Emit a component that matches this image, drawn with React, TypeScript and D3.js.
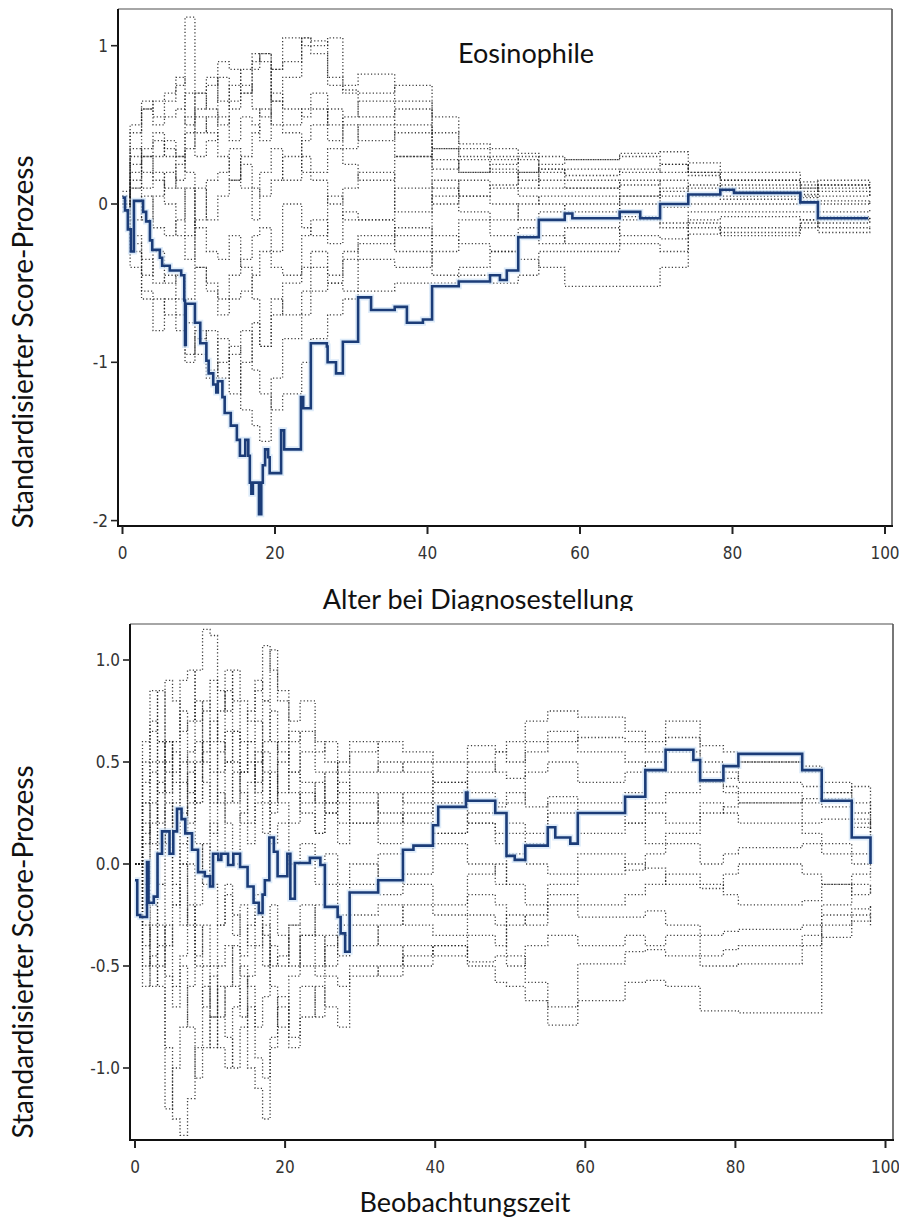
import React from "react";
import * as d3 from "d3";

// ---------- tick values ----------
const topTicksX = [0, 20, 40, 60, 80, 100];
const topTicksY = [-2, -1, 0, 1];
const botTicksX = [0, 20, 40, 60, 80, 100];
const botTicksY = [-1, -0.5, 0, 0.5, 1];

// ---------- texts ----------
const topTitle = "Eosinophile";
const topXLabel = "Alter bei Diagnosestellung";
const botXLabel = "Beobachtungszeit";
const yLabel = "Standardisierter Score-Prozess";

// ---------- top panel: observed score process ----------
const topBlueX = [0, 0.33, 0.7, 1.1, 1.5, 2.7, 3.1, 3.6, 3.9, 4.9, 5.2, 6.2, 7.7, 8.1, 8.2, 8.3, 9.5, 10.2, 11.0, 11.3, 11.9, 12.3, 12.5, 13.1, 13.4, 14.2, 15.0, 15.4, 16.1, 16.5, 16.7, 16.9, 17.1, 17.9, 18.2, 18.4, 18.7, 19.1, 19.3, 20.8, 21.2, 23.4, 23.7, 24.7, 26.8, 26.9, 28.0, 28.9, 30.9, 32.6, 35.7, 37.3, 39.4, 40.6, 44.1, 48.2, 49.5, 50.4, 51.9, 54.6, 58.0, 59.0, 65.2, 67.9, 70.5, 74.2, 78.4, 80.2, 88.9, 91.2, 97.8];
const topBlueY = [0.04, -0.04, -0.16, -0.3, 0.02, -0.05, -0.11, -0.23, -0.29, -0.34, -0.39, -0.42, -0.45, -0.61, -0.89, -0.63, -0.75, -0.88, -0.99, -1.07, -1.14, -1.19, -1.12, -1.22, -1.32, -1.4, -1.49, -1.59, -1.49, -1.59, -1.76, -1.83, -1.76, -1.96, -1.76, -1.65, -1.55, -1.6, -1.7, -1.43, -1.55, -1.22, -1.29, -0.88, -0.9, -1.0, -1.07, -0.87, -0.59, -0.67, -0.65, -0.75, -0.73, -0.52, -0.49, -0.45, -0.48, -0.42, -0.21, -0.1, -0.06, -0.09, -0.05, -0.09, 0.0, 0.06, 0.09, 0.07, 0.01, -0.09, -0.09];

// ---------- top panel: simulated processes (shared jump times) ----------
const topSimX = [0, 1, 2.5, 4, 5.5, 7, 8.2, 9.5, 11, 12.5, 14, 15.5, 17, 18, 19.5, 21, 23.5, 24.7, 26.9, 28.9, 30.9, 35.7, 40.6, 44.1, 48.2, 51.9, 54.6, 58, 65.2, 70.5, 74.2, 78.4, 88.9, 91.2, 98];
const topSim1 = [0.05, 0.3, 0.6, 0.55, 0.65, 0.75, 1.18, 0.7, 0.8, 0.65, 0.75, 0.85, 0.9, 0.95, 0.85, 1.05, 1.0, 0.95, 0.75, 0.7, 0.55, 0.6, 0.35, 0.3, 0.28, 0.2, 0.25, 0.28, 0.3, 0.25, 0.2, 0.15, 0.12, 0.1, 0.05];
const topSim2 = [0.0, 0.45, 0.65, 0.5, 0.55, 0.6, 0.7, 0.45, 0.55, 0.8, 0.6, 0.7, 0.95, 0.9, 0.65, 0.8, 1.05, 1.03, 0.8, 0.75, 0.82, 0.65, 0.45, 0.35, 0.3, 0.28, 0.22, 0.18, 0.22, 0.2, 0.26, 0.1, 0.08, 0.12, 0.1];
const topSim3 = [-0.05, 0.25, 0.35, 0.45, 0.3, 0.15, 0.45, 0.3, 0.4, 0.55, 0.4, 0.55, 0.5, 0.4, 0.7, 0.6, 0.55, 0.6, 0.4, 0.5, 0.4, 0.45, 0.22, 0.28, 0.2, 0.1, 0.15, 0.15, 0.05, 0.1, 0.12, 0.05, 0.04, 0.0, 0.02];
const topSim4 = [0.05, -0.2, -0.45, -0.3, -0.5, -0.45, -0.6, -0.4, -0.55, -0.7, -0.6, -0.55, -0.45, -0.3, -0.4, -0.45, -0.2, -0.1, -0.25, -0.05, -0.1, 0.1, 0.0, 0.15, 0.1, 0.05, 0.0, -0.05, 0.05, -0.02, 0.0, 0.0, 0.02, -0.05, -0.03];
const topSim5 = [0.0, -0.4, -0.55, -0.6, -0.7, -0.8, -0.95, -0.85, -1.05, -1.0, -0.9, -1.3, -1.4, -1.5, -1.1, -0.85, -0.7, -0.55, -0.5, -0.55, -0.35, -0.4, -0.2, -0.25, -0.3, -0.35, -0.4, -0.52, -0.52, -0.4, -0.19, -0.15, -0.12, -0.18, -0.15];
const topSim6 = [0.08, 0.1, -0.1, 0.05, 0.2, 0.1, -0.2, 0.1, -0.1, 0.05, 0.15, 0.25, 0.1, 0.05, 0.15, 0.3, 0.2, 0.2, 0.35, 0.25, 0.15, 0.3, 0.1, 0.05, 0.0, -0.1, -0.05, 0.0, -0.08, -0.12, -0.1, -0.08, -0.1, -0.08, -0.1];
const topSim7 = [0.0, 0.2, 0.1, 0.3, 0.4, 0.3, 0.2, -0.15, -0.3, -0.35, -0.2, -0.4, -0.6, -0.9, -0.7, -0.5, -0.4, -0.3, -0.45, -0.35, -0.2, -0.3, -0.45, -0.4, -0.3, -0.2, -0.25, -0.15, -0.2, -0.22, -0.15, -0.2, -0.15, -0.1, -0.12];
const topSim8 = [0.02, 0.5, 0.6, 0.65, 0.7, 0.8, 0.5, 0.6, 0.75, 0.9, 0.85, 0.7, 0.85, 0.95, 0.65, 0.5, 0.6, 0.7, 0.5, 0.55, 0.65, 0.5, 0.28, 0.2, 0.22, 0.15, 0.22, 0.1, 0.15, 0.05, 0.1, 0.08, 0.06, 0.15, 0.12];
const topSim9 = [-0.02, -0.3, -0.6, -0.8, -0.6, -0.7, -1.0, -0.8, -1.1, -0.85, -1.2, -1.0, -0.75, -0.9, -0.6, -0.7, -0.55, -0.4, -0.5, -0.3, -0.25, -0.15, -0.3, -0.1, -0.2, -0.15, -0.2, -0.25, -0.1, -0.15, -0.05, -0.05, -0.05, -0.12, -0.08];
const topSim10 = [0.05, 0.35, 0.2, 0.15, 0.1, 0.25, 0.35, 0.55, 0.45, 0.3, 0.15, 0.3, 0.45, 0.6, 0.5, 0.45, 0.3, 0.15, 0.0, 0.1, 0.2, -0.05, 0.15, 0.05, 0.12, 0.2, 0.1, 0.1, 0.12, 0.15, 0.05, 0.12, 0.1, 0.05, 0.06];
const topSim11 = [0.0, -0.1, 0.05, -0.15, -0.2, -0.1, 0.1, -0.4, -0.5, -0.6, -0.45, -0.35, -0.2, -0.15, -0.3, 0.0, -0.15, -0.2, 0.05, -0.1, -0.1, -0.2, 0.05, -0.05, -0.1, 0.0, 0.05, 0.05, 0.0, 0.08, 0.05, 0.03, 0.05, 0.02, 0.0];
const topSim12 = [0.0, 0.15, 0.3, 0.4, 0.35, 0.3, 0.55, 0.7, 0.6, 0.5, 0.65, 0.75, 0.6, 0.55, 0.85, 0.9, 1.05, 1.0, 1.05, 0.72, 0.7, 0.75, 0.55, 0.38, 0.35, 0.32, 0.3, 0.28, 0.32, 0.33, 0.2, 0.2, 0.14, 0.12, 0.1];
const topSim13 = [0.0, -0.25, -0.35, -0.5, -0.45, -0.6, -0.75, -0.95, -0.8, -1.1, -0.95, -0.8, -1.05, -1.2, -1.3, -1.2, -1.0, -0.85, -0.7, -0.6, -0.55, -0.5, -0.5, -0.45, -0.5, -0.45, -0.3, -0.3, -0.25, -0.3, -0.12, -0.18, -0.1, -0.15, -0.14];
const topSim14 = [0.05, 0.1, 0.3, 0.2, 0.0, -0.2, -0.35, -0.1, 0.15, 0.2, 0.35, 0.1, -0.1, 0.2, 0.35, 0.15, 0.4, 0.5, 0.6, 0.35, 0.5, 0.3, 0.35, 0.2, 0.25, 0.3, 0.2, 0.22, 0.2, 0.25, 0.18, 0.15, 0.1, 0.08, 0.05];
const topSims = [topSim1, topSim2, topSim3, topSim4, topSim5, topSim6, topSim7, topSim8, topSim9, topSim10, topSim11, topSim12, topSim13, topSim14];

// ---------- bottom panel: observed score process ----------
const botBlueX = [0, 0.3, 0.7, 1.6, 1.8, 2.5, 3.0, 3.6, 4.6, 5.1, 5.6, 6.2, 6.7, 7.6, 8.4, 9.3, 10.0, 10.4, 11.1, 11.5, 12.4, 13.1, 14.0, 15.0, 15.8, 16.5, 17.0, 17.3, 17.9, 18.5, 19.0, 20.3, 20.7, 21.3, 23.3, 24.7, 25.3, 27.0, 27.4, 28.0, 28.6, 32.4, 35.7, 37.1, 39.7, 40.4, 44.1, 44.3, 48.0, 49.5, 50.6, 52.0, 55.0, 56.0, 58.0, 59.0, 65.3, 68.0, 70.7, 74.4, 75.3, 78.4, 80.4, 88.9, 91.5, 95.5, 98.0];
const botBlueY = [-0.08, -0.25, -0.26, 0.01, -0.19, -0.16, 0.05, 0.16, 0.05, 0.16, 0.27, 0.22, 0.15, 0.07, -0.04, -0.06, -0.11, 0.05, 0.02, 0.05, -0.005, 0.05, -0.015, -0.11, -0.19, -0.24, -0.15, -0.08, 0.13, 0.06, -0.06, 0.05, -0.17, 0.005, 0.03, -0.005, -0.21, -0.26, -0.34, -0.43, -0.14, -0.08, 0.07, 0.09, 0.19, 0.28, 0.35, 0.31, 0.25, 0.04, 0.02, 0.09, 0.18, 0.13, 0.1, 0.25, 0.33, 0.46, 0.56, 0.51, 0.41, 0.48, 0.54, 0.46, 0.31, 0.13, 0.0];

// ---------- bottom panel: simulated processes ----------
const botSimX = [0, 1, 2, 3, 4, 5, 6, 7, 8, 9, 10, 11, 12, 13, 14, 15, 16, 17, 18, 19, 20.5, 22, 24, 25.3, 27, 28.6, 32.4, 35.7, 39.7, 44.3, 48, 49.5, 52, 55, 59, 65.3, 68, 70.7, 75.3, 78.4, 80.4, 88.9, 91.5, 95.5, 98];
const botSim1 = [0.0, 0.5, 0.85, 0.6, 0.9, 0.8, 0.65, 0.7, 0.95, 1.15, 1.12, 0.85, 0.75, 0.95, 0.8, 0.7, 0.85, 1.07, 0.95, 0.8, 0.7, 0.8, 0.6, 0.5, 0.45, 0.55, 0.6, 0.55, 0.5, 0.58, 0.55, 0.6, 0.7, 0.75, 0.72, 0.65, 0.6, 0.7, 0.58, 0.55, 0.5, 0.45, 0.4, 0.3, 0.2];
const botSim2 = [0.0, 0.4, 0.65, 0.85, 0.5, 0.6, 0.9, 0.95, 0.7, 0.8, 0.6, 0.75, 0.95, 0.8, 0.6, 0.75, 0.9, 0.8, 1.05, 0.85, 0.6, 0.65, 0.55, 0.6, 0.35, 0.45, 0.5, 0.45, 0.4, 0.5, 0.45, 0.42, 0.55, 0.6, 0.62, 0.6, 0.55, 0.62, 0.5, 0.45, 0.4, 0.38, 0.35, 0.25, 0.15];
const botSim3 = [0.0, 0.3, 0.5, 0.35, 0.6, 0.45, 0.75, 0.5, 0.3, 0.6, 0.45, 0.3, 0.5, 0.65, 0.45, 0.5, 0.35, 0.6, 0.75, 0.55, 0.45, 0.3, 0.4, 0.25, 0.3, 0.2, 0.35, 0.3, 0.4, 0.35, 0.28, 0.3, 0.45, 0.5, 0.4, 0.45, 0.5, 0.45, 0.4, 0.35, 0.3, 0.32, 0.28, 0.22, 0.18];
const botSim4 = [0.0, -0.3, -0.5, -0.6, -0.9, -1.25, -1.33, -1.15, -0.9, -0.6, -0.75, -0.5, -0.4, -0.6, -0.75, -0.55, -0.4, -0.3, -0.5, -0.45, -0.3, -0.5, -0.55, -0.4, -0.3, -0.25, -0.2, -0.3, -0.35, -0.25, -0.3, -0.45, -0.58, -0.7, -0.49, -0.43, -0.42, -0.45, -0.5, -0.5, -0.49, -0.35, -0.36, -0.28, -0.2];
const botSim5 = [0.0, -0.2, -0.6, -0.4, -1.2, -1.0, -0.8, -0.6, -0.3, -0.5, -0.9, -0.75, -0.6, -0.4, -0.55, -1.0, -1.1, -1.25, -0.9, -0.7, -0.85, -0.6, -0.75, -0.55, -0.6, -0.5, -0.55, -0.45, -0.4, -0.5, -0.58, -0.6, -0.67, -0.79, -0.67, -0.58, -0.57, -0.6, -0.72, -0.72, -0.73, -0.73, -0.3, -0.25, -0.3];
const botSim6 = [0.0, 0.2, -0.2, 0.1, 0.3, -0.1, -0.3, 0.0, -0.5, -0.7, -0.55, -0.9, -1.0, -0.7, -0.5, -0.6, -0.8, -0.65, -0.4, -0.5, -0.3, -0.2, -0.35, -0.5, -0.35, -0.4, -0.3, -0.2, -0.25, -0.15, -0.2, -0.3, -0.25, -0.2, -0.26, -0.26, -0.23, -0.3, -0.35, -0.33, -0.32, -0.3, -0.2, -0.1, -0.15];
const botSim7 = [0.0, 0.6, 0.7, 0.5, 0.35, 0.55, 0.4, 0.2, 0.5, 0.75, 0.9, 0.6, 0.5, 0.3, 0.45, 0.6, 0.4, 0.55, 0.3, 0.5, 0.65, 0.4, 0.3, 0.45, 0.2, 0.35, 0.25, 0.2, 0.15, 0.25, 0.3, 0.35, 0.28, 0.33, 0.3, 0.2, 0.3, 0.35, 0.45, 0.42, 0.5, 0.48, 0.35, 0.38, 0.25];
const botSim8 = [0.0, -0.4, -0.2, -0.5, -0.3, -0.6, -0.5, -0.8, -1.05, -0.9, -0.75, -0.6, -0.85, -1.0, -0.8, -0.7, -0.95, -1.05, -0.85, -0.65, -0.9, -0.75, -0.6, -0.7, -0.8, -0.55, -0.5, -0.4, -0.45, -0.35, -0.4, -0.25, -0.3, -0.15, -0.2, -0.15, -0.1, -0.05, -0.1, -0.15, -0.2, -0.18, -0.1, -0.05, -0.08];
const botSim9 = [0.0, 0.1, 0.3, -0.1, 0.15, 0.3, 0.5, 0.35, 0.1, -0.1, 0.2, 0.05, 0.3, 0.45, 0.2, 0.1, 0.3, 0.15, 0.45, 0.3, 0.2, 0.35, 0.15, 0.3, 0.4, 0.3, 0.2, 0.35, 0.15, 0.2, 0.1, 0.15, 0.1, 0.25, 0.15, 0.2, 0.1, 0.15, 0.25, 0.28, 0.3, 0.2, 0.22, 0.18, 0.12];
const botSim10 = [0.0, -0.1, 0.2, 0.4, 0.1, -0.2, 0.1, 0.3, 0.6, 0.4, 0.15, 0.35, 0.2, 0.0, 0.25, 0.4, 0.55, 0.3, 0.1, 0.2, 0.0, 0.1, -0.1, 0.05, -0.1, 0.0, -0.15, -0.05, 0.1, 0.0, -0.1, 0.05, 0.0, -0.05, 0.05, -0.03, 0.05, 0.1, 0.0, 0.05, 0.08, 0.1, 0.05, 0.0, -0.05];
const botSim11 = [0.0, -0.5, -0.3, -0.1, -0.4, -0.2, 0.0, -0.3, -0.2, 0.1, -0.1, -0.3, -0.15, -0.35, -0.2, -0.4, -0.25, -0.5, -0.2, -0.35, -0.5, -0.35, -0.2, -0.1, -0.25, -0.1, 0.05, -0.1, -0.2, -0.05, 0.0, -0.1, -0.2, -0.1, -0.05, 0.0, -0.02, -0.1, -0.12, -0.05, 0.0, -0.05, -0.1, -0.15, -0.1];
const botSim12 = [0.0, 0.3, 0.1, 0.6, 0.45, 0.2, 0.0, 0.45, 0.3, 0.55, 0.7, 0.45, 0.65, 0.5, 0.35, 0.2, 0.5, 0.8, 0.6, 0.35, 0.45, 0.55, 0.45, 0.3, 0.5, 0.6, 0.45, 0.5, 0.35, 0.45, 0.55, 0.5, 0.6, 0.65, 0.55, 0.5, 0.45, 0.55, 0.4, 0.38, 0.35, 0.3, 0.32, 0.2, 0.1];
const botSim13 = [0.0, -0.6, -0.45, -0.3, -0.55, -0.7, -0.45, -0.2, -0.45, -0.3, -0.5, -0.3, -0.1, -0.25, -0.45, -0.3, -0.15, -0.35, -0.6, -0.8, -0.55, -0.35, -0.5, -0.35, -0.45, -0.3, -0.4, -0.5, -0.4, -0.48, -0.45, -0.5, -0.4, -0.35, -0.4, -0.35, -0.4, -0.35, -0.45, -0.42, -0.4, -0.4, -0.25, -0.22, -0.2];
const botSim14 = [0.0, 0.15, 0.45, 0.2, 0.6, 0.4, 0.25, 0.55, 0.8, 0.5, 0.3, 0.55, 0.85, 0.65, 0.45, 0.6, 0.7, 0.45, 0.25, 0.6, 0.35, 0.25, 0.15, 0.25, 0.1, 0.2, 0.1, 0.25, 0.3, 0.2, 0.15, 0.2, 0.15, 0.3, 0.25, 0.35, 0.25, 0.2, 0.3, 0.25, 0.2, 0.15, 0.1, 0.05, 0.0];
const botSims = [botSim1, botSim2, botSim3, botSim4, botSim5, botSim6, botSim7, botSim8, botSim9, botSim10, botSim11, botSim12, botSim13, botSim14];

// ---------- layout ----------
const W = 899;
const H = 1220;
const TICK_FONT = "'Liberation Sans Narrow', 'DejaVu Sans Condensed', 'Liberation Sans', sans-serif";
const TITLE_FONT = "Lato, 'Open Sans', sans-serif";

const topFrame = { left: 118, right: 892, top: 9, bottom: 526 };
const botFrame = { left: 130, right: 893, top: 624, bottom: 1140 };

const xTop = d3.scaleLinear().domain([0, 100]).range([122.5, 885]);
const yTop = d3.scaleLinear().domain([-2, 1]).range([520.6, 45.7]);
const xBot = d3.scaleLinear().domain([0, 100]).range([135, 885.5]);
const yBot = d3.scaleLinear().domain([-1, 1]).range([1068, 660]);

const fmtHyphen = (f: (n: number) => string) => (v: number) => f(v).replace("\u2212", "-");
const fmtTopY = fmtHyphen(d3.format("d"));
const fmtBotY = fmtHyphen(d3.format(".1f"));

function zip(xs: number[], ys: number[]): [number, number][] {
  return xs.map((x, i) => [x, ys[i]] as [number, number]);
}

type Frame = { left: number; right: number; top: number; bottom: number };

function Panel(props: {
  frame: Frame;
  x: d3.ScaleLinear<number, number>;
  y: d3.ScaleLinear<number, number>;
  ticksX: number[];
  ticksY: number[];
  fmtY: (v: number) => string;
  simX: number[];
  sims: number[][];
  blueX: number[];
  blueY: number[];
  id: string;
}) {
  const { frame, x, y, ticksX, ticksY, fmtY, simX, sims, blueX, blueY, id } = props;
  const line = d3
    .line<[number, number]>()
    .x((d) => x(d[0]))
    .y((d) => y(d[1]))
    .curve(d3.curveStepAfter);
  const bluePath = line(zip(blueX, blueY)) || "";
  return (
    <g>
      <defs>
        <clipPath id={`clip-${id}`}>
          <rect x={frame.left} y={frame.top} width={frame.right - frame.left} height={frame.bottom - frame.top} />
        </clipPath>
      </defs>
      <rect x={frame.left} y={frame.top} width={frame.right - frame.left} height={frame.bottom - frame.top} fill="#fff" />
      <g clipPath={`url(#clip-${id})`}>
        {sims.map((s, i) => (
          <path
            key={i}
            d={line(zip(simX, s)) || ""}
            fill="none"
            stroke="#1a1a1a"
            strokeOpacity={0.85}
            strokeWidth={1.3}
            strokeDasharray="1.2 2.2"
          />
        ))}
        <path d={bluePath} fill="none" stroke="#cfe2f6" strokeWidth={6} strokeOpacity={0.7} />
        <path d={bluePath} fill="none" stroke="#1b3c78" strokeWidth={2.6} />
      </g>
      {/* frame: top and right grey, left and bottom black axes */}
      <line x1={frame.left} x2={frame.right} y1={frame.top} y2={frame.top} stroke="#888" strokeWidth={1.5} />
      <line x1={frame.right} x2={frame.right} y1={frame.top} y2={frame.bottom} stroke="#555" strokeWidth={1.6} />
      <line x1={frame.left} x2={frame.left} y1={frame.top} y2={frame.bottom + 1} stroke="#111" strokeWidth={2} />
      <line x1={frame.left} x2={frame.right + 1} y1={frame.bottom} y2={frame.bottom} stroke="#111" strokeWidth={2} />
      {ticksY.map((t) => (
        <g key={`y${t}`}>
          <line x1={frame.left - 7} x2={frame.left} y1={y(t)} y2={y(t)} stroke="#222" strokeWidth={1.6} />
          <text
            x={frame.left - 10}
            y={y(t)}
            dy="0.36em"
            textAnchor="end"
            fontFamily={TICK_FONT}
            fontSize={17}
            fill="#333"
          >
            {fmtY(t)}
          </text>
        </g>
      ))}
      {ticksX.map((t) => (
        <g key={`x${t}`}>
          <line x1={x(t)} x2={x(t)} y1={frame.bottom} y2={frame.bottom + 8} stroke="#222" strokeWidth={2} />
          <text
            x={x(t)}
            y={frame.bottom + 33}
            textAnchor="middle"
            fontFamily={TICK_FONT}
            fontSize={17}
            fill="#333"
          >
            {t}
          </text>
        </g>
      ))}
    </g>
  );
}

export default function App() {
  return (
    <svg width={W} height={H} style={{ display: "block", position: "absolute", left: 0, top: 0, background: "#fff" }}>
      <defs>
        <clipPath id="clip-xlabel">
          <rect x={0} y={560} width={W} height={51} />
        </clipPath>
      </defs>
      <rect x={0} y={0} width={W} height={H} fill="#fff" />
      <Panel
        id="top"
        frame={topFrame}
        x={xTop}
        y={yTop}
        ticksX={topTicksX}
        ticksY={topTicksY}
        fmtY={fmtTopY}
        simX={topSimX}
        sims={topSims}
        blueX={topBlueX}
        blueY={topBlueY}
      />
      <Panel
        id="bot"
        frame={botFrame}
        x={xBot}
        y={yBot}
        ticksX={botTicksX}
        ticksY={botTicksY}
        fmtY={fmtBotY}
        simX={botSimX}
        sims={botSims}
        blueX={botBlueX}
        blueY={botBlueY}
      />
      <text x={526} y={63} textAnchor="middle" fontFamily={TITLE_FONT} fontSize={27} fill="#111">
        {topTitle}
      </text>
      <text
        x={478}
        y={609}
        textAnchor="middle"
        fontFamily={TITLE_FONT}
        fontSize={27}
        fill="#111"
        clipPath="url(#clip-xlabel)"
      >
        {topXLabel}
      </text>
      <text x={465} y={1212} textAnchor="middle" fontFamily={TITLE_FONT} fontSize={27} fill="#111">
        {botXLabel}
      </text>
      <text
        transform="translate(33,342) rotate(-90)"
        textAnchor="middle"
        fontFamily={TITLE_FONT}
        fontSize={28}
        fill="#111"
      >
        {yLabel}
      </text>
      <text
        transform="translate(33,952) rotate(-90)"
        textAnchor="middle"
        fontFamily={TITLE_FONT}
        fontSize={28}
        fill="#111"
      >
        {yLabel}
      </text>
    </svg>
  );
}
